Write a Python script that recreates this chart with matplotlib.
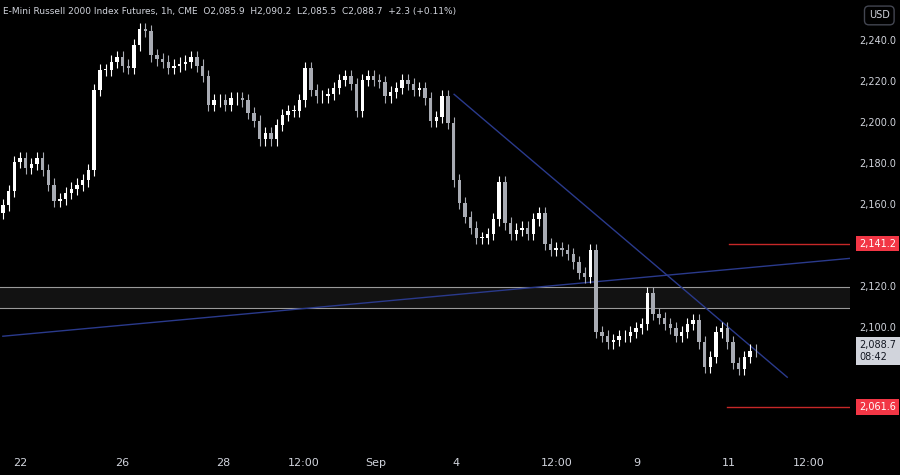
import matplotlib
matplotlib.use("Agg")
import matplotlib.pyplot as plt
from matplotlib.patches import Rectangle

# hourly closes (approximate)
closes = [2160, 2167, 2181, 2183, 2178, 2180, 2183, 2177, 2170, 2162, 2163, 2166, 2168, 2170, 2172,
          2177, 2216, 2226, 2226, 2230, 2232, 2228, 2227, 2238, 2246, 2245, 2233, 2231, 2230, 2227,
          2228, 2229, 2230, 2232, 2228, 2223, 2209, 2211, 2211, 2209, 2212, 2212, 2211, 2205, 2201,
          2192, 2195, 2192, 2199, 2204, 2206, 2206, 2211, 2227, 2216, 2213, 2213, 2214, 2217, 2221,
          2223, 2219, 2206, 2221, 2223, 2221, 2220, 2213, 2215, 2217, 2221, 2219, 2216, 2217, 2212,
          2201, 2203, 2213, 2200, 2172, 2161, 2154, 2149, 2144, 2144, 2146, 2153, 2171, 2151, 2146,
          2148, 2149, 2146, 2153, 2156, 2141, 2138, 2139, 2138, 2136, 2132, 2127, 2125, 2138, 2098,
          2096, 2093, 2094, 2096, 2096, 2098, 2100, 2102, 2117, 2107, 2105, 2102, 2100, 2096, 2098,
          2102, 2104, 2093, 2081, 2086, 2098, 2100, 2093, 2083, 2080, 2086, 2089, 2088.7]
opens = [2156] + closes[:-1]
wick = 3

tick_pos = [3.1, 20.9, 38.7, 52.8, 65.4, 79.5, 97.1, 111.1, 127.3, 141.2]
tick_lbl = ["22", "26", "28", "12:00", "Sep", "4", "12:00", "9", "11", "12:00"]
price_ticks = [2100, 2120, 2160, 2180, 2200, 2220, 2240]  # 2,140 hidden behind the red label

zone = (2110, 2120)
down_line = ((79.1, 2214), (137.5, 2076))
up_line = ((0, 2096), (148.6, 2134))
res_level, sup_level = 2141.2, 2061.6
last = 2088.7

bg = "#000000"
txt = "#d1d4dc"

fig = plt.figure(figsize=(9, 4.75), dpi=100, facecolor=bg)
ax = fig.add_axes([0, 25 / 475, 850 / 900, 450 / 475], facecolor=bg)
x0, x1 = -0.5, 148.5
ax.set_xlim(x0, x1)
ax.set_ylim(2040.5, 2260)

# support/resistance zone
ax.add_patch(Rectangle((x0, zone[0]), x1 - x0, zone[1] - zone[0], facecolor="#121212", edgecolor="none", zorder=0))
for z in zone:
    ax.axhline(z, color="#9a9a9a", lw=0.8, zorder=1)

for i, (o, c) in enumerate(zip(opens, closes)):
    col = "#ffffff" if c >= o else "#a8abb3"
    ax.vlines(i, min(o, c) - wick, max(o, c) + wick, color=col, lw=0.8, zorder=3)
    ax.add_patch(Rectangle((i - 0.3, min(o, c)), 0.6, max(abs(c - o), 0.3), facecolor=col, edgecolor="none", zorder=4))

ax.plot(*zip(*down_line), color="#2a3a8c", lw=1, zorder=2)
ax.plot(*zip(*up_line), color="#2a3a8c", lw=1, zorder=2)
ax.plot([127.3, x1], [res_level, res_level], color="#c62828", lw=1, zorder=2)
ax.plot([127.0, x1], [sup_level, sup_level], color="#c62828", lw=1, zorder=2)

for s in ax.spines.values():
    s.set_visible(False)
ax.set_xticks(tick_pos)
ax.set_xticklabels(tick_lbl, color=txt, fontsize=8)
ax.tick_params(axis="x", length=0, pad=6)
ax.set_yticks([])

# right price scale
LX = 1.011
def ylab(v, text, fc=None, tc=txt):
    kw = dict(transform=ax.get_yaxis_transform(), fontsize=7, va="center", ha="left", color=tc, clip_on=False)
    if fc:
        kw["bbox"] = dict(boxstyle="square,pad=0.3", fc=fc, ec="none")
    ax.text(LX, v, text, **kw)

for p in price_ticks:
    ylab(p, f"{p:,.1f}")
ylab(res_level, f"{res_level:,.1f}", fc="#f23645", tc="white")
ylab(sup_level, f"{sup_level:,.1f}", fc="#f23645", tc="white")
ax.text(LX, last, f"{last:,.1f}\n08:42", transform=ax.get_yaxis_transform(), fontsize=7, va="center",
        ha="left", color="#131722", clip_on=False, linespacing=1.2,
        bbox=dict(boxstyle="square,pad=0.35", fc="#d1d4dc", ec="none"))

fig.text(0.003, 0.985, "E-Mini Russell 2000 Index Futures, 1h, CME  O2,085.9  H2,090.2  L2,085.5  C2,088.7  +2.3 (+0.11%)",
         color=txt, fontsize=6.5, va="top", ha="left")
fig.text(0.977, 0.978, "USD", color=txt, fontsize=7, va="top", ha="center",
         bbox=dict(boxstyle="round,pad=0.45", fc=bg, ec="#434651"))

fig.savefig("out.png", dpi=100, facecolor=bg)
